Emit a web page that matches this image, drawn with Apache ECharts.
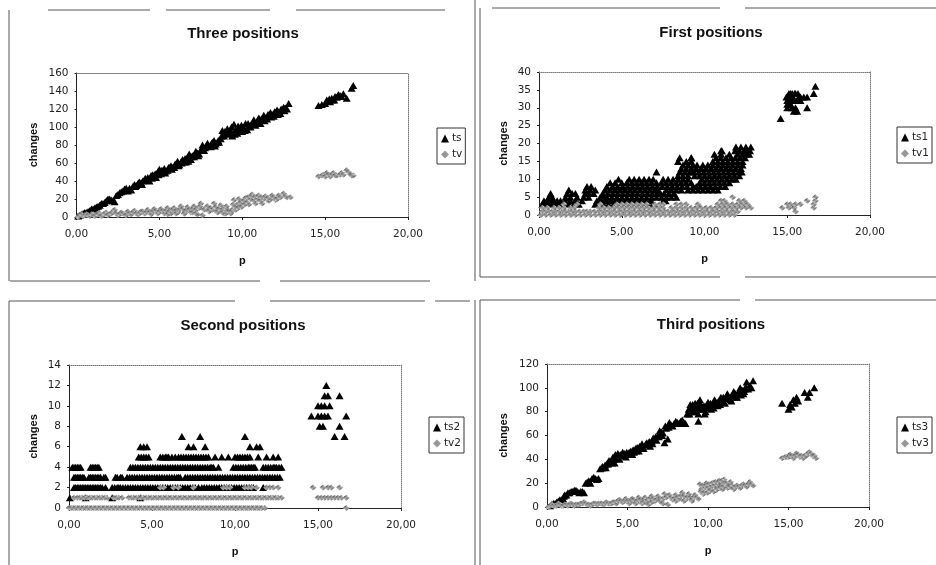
<!DOCTYPE html>
<html><head><meta charset="utf-8">
<style>html,body{margin:0;padding:0;background:#fff}#c{width:936px;height:565px}</style>
<script src="https://cdn.jsdelivr.net/npm/echarts@6/dist/echarts.min.js"></script>
</head><body><div id="c"></div>
<script>
// ---------- data: [p, changes] ----------
const ts=[[.1,1],[.3,3],[.5,5],[.7,6],[.9,9],[1.1,10],[1.3,12],[1.5,15],[1.7,16],[1.9,20],[2.1,19],[2.3,17],[2.4,24],[2.6,27],[2.8,29],[3,32],[3.1,29],[3.3,30],[3.5,36],[3.7,37],[3.9,38],[4.1,41],[4.3,44],[4.4,40],[4.6,47],[4.8,44],[5,53],[5.1,48],[5.3,54],[5.5,52],[5.7,57],[5.9,55],[6.1,62],[6.2,58],[6.4,64],[6.6,61],[6.8,70],[6.9,64],[7.1,67],[7.2,73],[7.4,70],[7.6,80],[7.7,74],[7.9,82],[8.1,78],[8.3,85],[8.4,81],[8.6,83],[8.8,96],[8.9,90],[9.1,98],[9.2,92],[9.4,90],[9.5,103],[9.7,93],[9.8,99],[10,95],[10.2,104],[10.3,97],[10.5,100],[10.7,108],[10.8,102],[11,110],[11.1,104],[11.3,113],[11.5,109],[11.7,116],[11.9,112],[12.1,119],[12.3,115],[12.5,122],[12.7,120],[12.8,126],[14.6,124],[15,126],[15.1,130],[15.3,128],[15.4,132],[15.6,134],[15.8,136],[16.1,137],[16.3,132],[16.6,143],[16.7,146]];
const tsMore=[[.2,2],[.4,4],[.6,5],[.8,7],[1,9],[1.2,11],[1.4,13],[1.6,15],[1.8,18],[2,20],[2.2,18],[2.5,25],[2.7,28],[2.9,31],[3.2,32],[3.4,34],[3.6,35],[3.8,39],[4,40],[4.2,41],[4.5,46],[4.7,45],[4.9,50],[5.2,51],[5.4,51],[5.6,55],[5.8,55],[6,58],[6.3,61],[6.5,61],[6.7,66],[7,68],[7.3,71],[7.5,74],[7.8,78],[8,79],[8.2,83],[8.5,83],[8.7,87],[9,93],[9.3,96],[9.6,97],[9.9,97],[10.1,99],[10.4,102],[10.6,104],[10.9,106],[11.2,108],[11.4,110],[11.6,112],[11.8,114],[12,116],[12.2,117],[12.4,119],[12.6,121],[3.55,34],[3.75,38],[3.95,36],[4.15,43],[4.35,41],[4.55,43],[4.75,48],[4.95,47],[5.15,52],[5.35,49],[5.55,55],[5.75,53],[5.95,59],[6.15,57],[6.35,60],[6.55,65],[6.75,62],[6.95,67],[7.15,70],[7.35,68],[7.55,76],[7.75,77],[7.95,80],[8.15,82],[8.35,79],[8.55,85],[8.75,90],[8.95,95],[9.15,94],[9.35,100],[9.55,92],[9.75,101],[9.95,102],[10.15,96],[10.35,104],[10.55,103],[10.75,105],[10.95,108],[11.15,109],[11.35,107],[11.55,114],[11.75,111],[11.95,117],[12.15,114],[12.35,120],[12.55,118],[14.8,125],[15.2,129],[15.25,131],[15.45,130],[15.55,130],[15.7,133],[15.9,135],[16,134]];
const tv=[[.1,0],[.2,2],[.4,1],[.6,3],[.8,1],[1,3],[1.2,2],[1.4,4],[1.6,2],[1.8,5],[2,3],[2.2,6],[2.3,8],[2.5,2],[2.7,5],[2.9,3],[3.1,6],[3.3,3],[3.5,7],[3.7,3],[3.9,6],[4.1,4],[4.3,8],[4.5,3],[4.7,9],[4.9,4],[5.1,9],[5.3,4],[5.5,10],[5.7,4],[5.9,10],[6.1,5],[6.3,12],[6.5,4],[6.7,11],[6.9,5],[7.1,12],[7.3,3],[7.5,15],[7.6,2],[7.8,10],[8,6],[8.3,15],[8.5,5],[8.7,13],[8.9,4],[9.1,8],[9.3,4],[9.5,19],[9.6,8],[9.8,20],[10,13],[10.2,21],[10.4,14],[10.6,25],[10.8,15],[11,24],[11.2,15],[11.4,23],[11.6,18],[11.8,24],[12,19],[12.2,24],[12.5,26],[12.7,22],[12.9,22],[14.6,45],[14.9,47],[15.1,49],[15.3,45],[15.5,49],[15.7,46],[16,49],[16.3,52],[16.5,48],[16.7,46]];
const tvMore=[[.15,1],[.3,3],[.5,2],[.7,2],[.9,3],[1.1,1],[1.3,3],[1.5,1],[1.7,4],[1.9,2],[2.1,4],[2.4,4],[2.6,3],[2.8,4],[3,2],[3.2,4],[3.4,5],[3.6,4],[3.8,4],[4,6],[4.2,5],[4.4,5],[4.6,6],[4.8,7],[5,6],[5.2,7],[5.4,7],[5.6,6],[5.8,8],[6,7],[6.2,8],[6.4,9],[6.6,7],[6.8,8],[7,9],[7.2,8],[7.4,10],[7.7,8],[7.9,12],[8.1,10],[8.2,8],[8.4,11],[8.6,9],[8.8,8],[9,10],[9.2,6],[9.4,8],[9.7,14],[9.9,16],[10.1,18],[10.3,16],[10.5,20],[10.7,18],[10.9,20],[11.1,18],[11.3,20],[11.5,19],[11.7,20],[11.9,22],[12.1,20],[12.3,22],[12.6,23],[14.8,46],[15,45],[15.2,47],[15.4,47],[15.6,46],[15.9,47],[16.1,47],[16.4,50],[16.6,46],[9.55,12],[9.75,10],[9.95,11],[10.15,14],[10.35,22],[10.55,23],[10.75,22],[10.95,23],[11.15,22],[11.35,22],[11.55,21],[5.5,3],[6,4],[6.5,4],[7,5],[7.2,4],[7.45,12],[8,7],[8.5,6],[9,4],[9.05,12],[8.8,5],[9.35,6],[9.45,14]];

const ts1r3=[.2,.4,.6,.8,1,1.2,1.5,1.8,2.1,2.4,3.4,3.6,3.9,4.2,4.5,4.8,5.1,5.4,5.7,6,6.3,6.6,6.9];
const ts1r4=[.3,.5,.7,.9,1.1,1.3,1.6,1.9,2.2,2.6,3.5,3.75,4.05,4.35,4.65,4.95,5.25,5.55,5.85,6.15,6.45,6.75,7.5,7.65];
const ts1r5=[.6,.8,1.6,1.9,2.3,2.7,3,3.7,3.9,4.1,4.4,4.7,5,5.3,5.6,5.9,6.2,6.5,6.8,7.1,7.4,7.7,8,8.3];
const ts1r6=[.7,1.7,2,2.2,2.8,3,3.3,3.85,4.15,4.45,4.75,5.05,5.35,5.65,5.95,6.25,6.55,6.85,7.15,7.35,7.55,7.85,8.15];
const ts1r7=[1.8,2.8,3.1,3.4,4,4.3,4.6,4.9,5.2,5.5,5.8,6.1,6.4,6.7,7,7.2,7.7,8,8.3,8.6,9,9.3,9.6,9.9,10.2,10.5,10.8];
const ts1r8=[2.9,3.15,4.1,4.45,4.75,5.05,5.35,5.65,5.95,6.25,6.55,6.85,7.15,7.45,7.75,8.05,8.35,8.65,8.95,9.3,9.5,9.75,10.05,10.35,10.65,10.95,11.25];
const ts1r9=[4.3,4.6,5,5.3,5.6,5.9,6.2,6.5,6.8,7.1,7.4,7.7,8,8.3,8.6,8.9,9.2,9.7,10,10.3,10.6,10.9,11.2,11.5];
const ts1r10=[4.8,5.45,5.75,6.05,6.35,6.65,6.9,7.5,7.8,8.1,8.4,8.7,9,9.85,10.15,10.45,10.75,11.05,11.35,11.65,11.9];
const ts1r11=[8.4,8.7,9,9.4,9.7,10,10.3,10.6,10.9,11.2,11.5,11.8,12.1];
const ts1r12=[8.5,8.8,9.1,9.35,9.65,9.95,10.25,10.55,10.85,11.15,11.45,11.75,12.05,12.25];
const ts1r13=[8.6,8.9,9.2,9.5,9.8,10.1,10.4,10.7,11,11.3,11.6,11.9,12.2];
const ts1r14=[8.7,9,9.3,9.55,9.9,10.2,10.5,10.8,11.1,11.4,11.7,12,12.3];
const ts1r15=[8.4,8.9,9.2,10.5,10.8,11.1,11.4,11.7,12,12.3];
const ts1r16=[8.5,9.2,10.7,11,11.3,11.6,11.85,12.15,12.45];
const ts1r17=[10.6,11,11.5,12,12.3,12.5,12.7];
const ts1r18=[11.05,11.85,12.1,12.4,12.6,12.75];
const ts1r19=[11.9,12.2,12.5,12.8];
const ts1High=[[.6,5],[7.1,12],[9.2,16],[11,18],[12.1,18],[14.6,27],[15,30],[15.2,31],[15.4,29],[15.6,29],[15.1,33],[15.3,34],[15.5,34],[15.7,33],[15,32],[15.2,34],[15.8,33],[16,33],[16.2,33],[16.2,30],[16.6,34],[16.7,36],[15,31],[15.1,31],[15.3,30],[15.5,30],[15.25,32],[15.4,32],[15.6,32],[15.8,32],[15.35,33],[15.65,34],[15.1,34],[15.45,34],[14.95,33]];
const tv1r0=[.1,.4,.7,1,1.3,1.6,1.9,2.2,2.5,2.8,3.1,3.4,3.7,4,4.3,4.6,4.9,5.2,5.5,5.8,6.1,6.4,6.7,7,7.3,7.6,7.9,8.2,8.5,8.8,9.1,9.4,9.7,10,10.3,10.6,10.9,11.2,11.5,11.8];
const tv1r1=[.2,.6,1,1.4,1.8,2.2,2.7,3.1,3.6,4,4.4,4.8,5.2,5.6,6,6.4,6.8,7.2,7.6,8,8.4,8.8,9.2,9.6,10,10.4,10.8,11.2,11.6,12,15.5,.4,.8,1.2,1.6,2,2.45,2.9,3.35,3.8,4.2,4.6,5,5.4,5.8,6.2,6.6,7,7.4,7.8,8.2,8.6,9,9.4,9.8,10.2,10.6,11,11.4,11.8];
const tv1r2=[.2,.5,.9,1.2,1.5,1.9,2.1,3.6,3.9,4.2,4.5,4.8,5.1,5.4,5.7,6,6.3,6.6,6.9,7.2,7.5,8,8.3,8.6,8.9,9.2,9.5,9.8,10.1,10.4,10.7,11,11.3,11.6,11.9,12.2,12.5,12.8,14.7,15.1,15.4,16.6];
const tv1r3=[1.5,2.3,3.7,4.7,5,5.3,5.6,5.9,6.2,6.5,7,7.3,7.5,8.3,8.6,8.9,9.6,10.8,11.1,11.4,11.7,12,12.3,12.6,15,15.2,15.5,15.8,16.6];
const tv1High=[[11,4],[11.2,4],[11.7,5],[12.1,4],[12.4,4],[16.2,4],[16.7,4],[16.7,5]];

const ts2r1=[.05,1,2.6,4.3];
const ts2r2=[.3,.5,.7,.9,1.1,1.3,1.5,1.7,1.9,2.2,2.6,2.9,3.1,3.4,3.7,4,4.3,4.6,4.9,5.2,5.5,5.8,6.1,6.4,6.7,7,7.3,7.6,8,8.3,8.6,8.9,9.2,9.5,9.8,10.1,10.4,10.7,11,11.7,.4,.6,.8,1,1.2,1.4,1.6,1.8,2,2.75,3,3.25,3.55,3.85,4.15,4.45,4.75,5.05,5.35,5.65,5.95,6.25,6.55,6.85,7.15,7.45,7.8,8.15,8.45,8.75,9.05,9.35,9.65,9.95,10.25,10.55,10.85,11.1];
const ts2r3=[.3,.5,.7,.9,1.2,1.4,1.6,1.8,2.2,2.8,3.2,3.5,3.8,4.1,4.4,4.7,5,5.3,5.6,5.9,6.2,6.5,6.7,7,7.3,7.6,7.9,8.2,8.5,8.8,9.1,9.4,9.7,10,10.3,10.6,10.9,11.2,11.5,11.8,12.1,12.4,12.7,.4,.6,.8,1.3,1.5,1.7,1.9,2.1,2.9,3.1,3.65,3.95,4.25,4.55,4.85,5.15,5.45,5.75,6.05,6.35,6.6,7.15,7.45,7.75,8.05,8.35,8.65,8.95,9.25,9.55,9.85,10.15,10.45,10.75,11.05,11.35,11.65,11.95,12.25,12.55];
const ts2r4=[.2,.4,.6,.7,1.3,1.5,1.7,1.8,3.7,4,4.3,4.6,4.9,5.2,5.5,5.8,6.1,6.4,6.7,7,7.3,7.6,7.9,8.2,8.5,8.7,9,9.9,10.2,10.5,10.8,11,11.2,11.7,12,12.3,12.5,12.8,.3,.5,1.4,1.6,3.85,4.15,4.45,4.75,5.05,5.35,5.65,5.95,6.25,6.55,6.85,7.15,7.45,7.75,8.05,8.35,8.6,10.05,10.35,10.65,10.9,11.1,11.85,12.15,12.4,12.65];
const ts2r5=[4.2,4.5,4.8,5.5,5.8,6,6.4,6.6,6.9,7.2,7.5,7.8,8.1,8.4,8.8,9.2,9.6,10,10.3,10.6,10.9,11.4,11.9,12.3,12.6,4.35,4.65,5.65,5.9,6.2,6.75,7.05,7.35,7.65,7.95,8.25,10.15,10.45,10.75];
const ts2r6=[4.3,4.5,4.7,7.2,7.5,8.2,10.9,11.3,11.5];
const ts2r7=[6.8,7.9,10.6,16,16.6];
const ts2r8=[15.1,15.3,16.3];
const ts2r9=[14.6,15,15.2,15.4,15.6,16.7];
const ts2r10=[15,15.2,15.4,15.7];
const ts2r11=[15.4,15.6,16.3];
const ts2r12=[15.5];
const tv2r0=[0,.25,.5,.75,1,1.25,1.5,1.75,2,2.25,2.5,2.75,3,3.25,3.5,3.75,4,4.25,4.5,4.75,5,5.25,5.5,5.75,6,6.25,6.5,6.75,7,7.25,7.5,7.75,8,8.25,8.5,8.75,9,9.25,9.5,9.75,10,10.25,10.5,10.75,11,11.25,11.5,11.8,16.7,.12,.37,.62,.87,1.12,1.37,1.62,1.87,2.12,2.37,2.62,2.87,3.12,3.37,3.62,3.87,4.12,4.37,4.62,4.87,5.12,5.37,5.62,5.87,6.12,6.37,6.62,6.87,7.12,7.37,7.62,7.87,8.12,8.37,8.62,8.87,9.12,9.37,9.62,9.87,10.12,10.37,10.62,10.87,11.12,11.37,11.62];
const tv2r1=[.3,.5,.8,1.1,1.4,1.7,2,2.3,2.7,3,3.2,3.6,3.9,4.2,4.5,4.8,5.1,5.4,5.7,6,6.3,6.6,6.9,7.2,7.5,7.8,8.1,8.4,8.7,9,9.3,9.6,9.9,10.2,10.5,10.8,11.1,11.4,11.7,12,12.3,12.6,12.8,15,15.2,15.4,15.6,15.8,16,16.2,16.4,16.7,.65,.95,1.25,1.55,1.85,2.15,2.85,3.75,4.05,4.35,4.65,4.95,5.25,5.55,5.85,6.15,6.45,6.75,7.05,7.35,7.65,7.95,8.25,8.55,8.85,9.15,9.45,9.75,10.05,10.35,10.65,10.95,11.25,11.55,11.85,12.15,12.45];
const tv2r2=[5.5,5.7,6.3,6.6,7.5,9.3,9.5,9.7,10.6,10.8,11,11.3,11.9,12.1,12.3,12.6,14.7,15.3,15.6,15.8,16.3];

const ts3=[[.2,1],[.4,3],[.6,4],[.8,6],[1,7],[1.1,10],[1.3,12],[1.5,13],[1.7,14],[1.9,13],[2.1,13],[2.3,12],[2.4,20],[2.6,22],[2.7,20],[2.9,25],[3.1,23],[3.3,32],[3.5,33],[3.7,36],[3.9,38],[4.1,42],[4.2,37],[4.4,45],[4.5,40],[4.7,46],[4.9,42],[5.1,46],[5.3,44],[5.5,49],[5.7,47],[5.9,53],[6,49],[6.2,54],[6.4,51],[6.6,58],[6.8,56],[7,64],[7.2,62],[7.3,54],[7.5,57],[7.6,71],[7.8,68],[8,72],[8.2,70],[8.4,73],[8.6,70],[8.8,82],[8.9,86],[9.1,80],[9.2,87],[9.4,78],[9.5,90],[9.7,82],[9.8,78],[10,88],[10.2,82],[10.4,90],[10.6,85],[10.8,92],[11,88],[11.2,95],[11.4,90],[11.6,97],[11.8,92],[12,100],[12.2,95],[12.4,105],[12.5,99],[12.8,106],[12.7,100],[9.4,72],[14.6,87],[15,82],[15.1,86],[15.2,84],[15.3,90],[15.4,87],[15.5,92],[15.6,89],[16,96],[16.2,92],[16.3,96],[16.6,100]];
const ts3More=[[.3,2],[.5,3],[.7,5],[.9,6],[1.05,9],[1.2,10],[1.4,12],[1.6,13],[1.8,14],[2,12],[2.2,13],[2.5,21],[2.8,24],[3,24],[3.2,24],[3.4,33],[3.6,35],[3.8,36],[4,39],[4.15,40],[4.3,42],[4.45,41],[4.6,43],[4.8,45],[5,44],[5.2,47],[5.4,46],[5.6,50],[5.8,49],[6.1,52],[6.3,53],[6.5,55],[6.7,57],[6.9,60],[7.1,63],[7.4,66],[7.7,69],[7.9,70],[8.1,71],[8.3,72],[8.5,71],[8.7,78],[9,83],[9.3,84],[9.6,85],[9.9,84],[10.1,85],[10.3,86],[10.5,87],[10.7,88],[10.9,89],[11.1,91],[11.3,92],[11.5,93],[11.7,95],[11.9,96],[12.1,97],[12.3,99],[12.6,102],[3.45,34],[3.65,33],[3.85,39],[4.05,37],[4.25,44],[4.55,44],[4.75,44],[4.95,46],[5.15,45],[5.35,48],[5.55,47],[5.75,51],[5.95,51],[6.15,53],[6.35,55],[6.55,53],[6.75,59],[6.95,59],[7.15,60],[7.35,68],[7.55,67],[8.85,78],[8.95,84],[9.05,86],[9.15,84],[9.25,80],[9.35,87],[9.45,82],[9.55,86],[9.75,85],[9.85,80],[9.95,86],[10.05,83],[10.15,87],[10.35,83],[10.45,89],[10.65,89],[10.75,86],[10.95,92],[11.05,87],[11.25,93],[11.45,89],[11.55,95],[11.75,92],[11.95,98],[12.05,94],[12.15,98],[12.25,97],[12.35,101]];
const tv3=[[.1,0],[.3,2],[.5,1],[.7,3],[.9,1],[1.1,2],[1.3,1],[1.5,3],[1.7,1],[1.9,2],[2.1,3],[2.3,4],[2.5,2],[2.7,1],[2.9,3],[3.1,2],[3.3,3],[3.5,2],[3.7,4],[3.9,3],[4.1,4],[4.3,3],[4.5,6],[4.7,4],[4.9,7],[5.1,3],[5.3,7],[5.5,4],[5.7,8],[5.9,3],[6.1,8],[6.3,2],[6.5,9],[6.7,5],[6.9,9],[7.1,4],[7.3,11],[7.5,2],[7.6,10],[7.8,6],[8,10],[8.2,7],[8.4,12],[8.6,6],[8.8,11],[9,5],[9.2,10],[9.4,7],[9.5,19],[9.7,11],[9.9,20],[10.1,13],[10.3,20],[10.5,14],[10.7,22],[10.9,15],[11,23],[11.2,16],[11.4,21],[11.6,15],[11.8,18],[12,16],[12.2,19],[12.4,17],[12.6,21],[12.8,18],[14.6,41],[14.9,42],[15.1,44],[15.3,41],[15.5,45],[15.7,42],[15.9,41],[16.1,43],[16.3,46],[16.5,43],[16.7,41]];
const tv3More=[[.2,1],[.4,1],[.6,1],[.8,2],[1,1],[1.2,2],[1.4,2],[1.6,2],[1.8,2],[2,2],[2.2,3],[2.4,3],[2.6,2],[2.8,2],[3,3],[3.2,3],[3.4,3],[3.6,3],[3.8,3],[4,3],[4.2,4],[4.4,5],[4.6,5],[4.8,5],[5,5],[5.2,5],[5.4,6],[5.6,5],[5.8,6],[6,6],[6.2,5],[6.4,7],[6.6,7],[6.8,6],[7,7],[7.2,7],[7.4,8],[7.7,8],[7.9,7],[8.1,8],[8.3,9],[8.5,9],[8.7,8],[8.9,8],[9.1,8],[9.3,8],[9.6,15],[9.8,16],[10,16],[10.2,17],[10.4,18],[10.6,19],[10.8,18],[11,20],[11.1,18],[11.3,18],[11.5,18],[11.7,17],[11.9,17],[12.1,18],[12.3,18],[12.5,19],[12.7,19],[14.8,42],[15,42],[15.2,43],[15.4,43],[15.6,44],[15.8,43],[16,43],[16.2,45],[16.4,45],[16.6,43],[9.55,13],[9.75,12],[9.95,12],[10.15,14],[10.35,13],[10.55,15],[10.75,16],[10.95,17],[11.05,21],[11.15,20],[11.35,17],[9.65,18],[9.85,18],[10.05,19],[10.25,20],[10.45,21],[10.65,21],[10.85,22],[5.5,3],[6,4],[6.5,4],[7,5],[7.2,3],[8,5],[8.5,5],[9,6]];

const titles=['Three positions','First positions','Second positions','Third positions'];
const yMax=[160,40,14,120];
const yStep=[20,5,2,20];
const seriesNames=[['ts','tv'],['ts1','tv1'],['ts2','tv2'],['ts3','tv3']];

// ---------- assembling ----------
const row=(v,ps)=>ps.map(p=>[p,v]);
const ts1=[].concat(row(3,ts1r3),row(4,ts1r4),row(5,ts1r5),row(6,ts1r6),row(7,ts1r7),row(8,ts1r8),row(9,ts1r9),row(10,ts1r10),row(11,ts1r11),row(12,ts1r12),row(13,ts1r13),row(14,ts1r14),row(15,ts1r15),row(16,ts1r16),row(17,ts1r17),row(18,ts1r18),row(19,ts1r19),ts1High);
const tv1=[].concat(row(0,tv1r0),row(1,tv1r1),row(2,tv1r2),row(3,tv1r3),tv1High);
const ts2=[].concat(row(1,ts2r1),row(2,ts2r2),row(3,ts2r3),row(4,ts2r4),row(5,ts2r5),row(6,ts2r6),row(7,ts2r7),row(8,ts2r8),row(9,ts2r9),row(10,ts2r10),row(11,ts2r11),row(12,ts2r12));
const tv2=[].concat(row(0,tv2r0),row(1,tv2r1),row(2,tv2r2));
const seriesData=[[ts.concat(tsMore),tv.concat(tvMore)],[ts1,tv1],[ts2,tv2],[ts3.concat(ts3More),tv3.concat(tv3More)]];

const grids=[{l:76.5,t:73,w:331.5,h:144},{l:539,t:72,w:331,h:143},{l:69,t:365,w:332,h:143},{l:547,t:364,w:322,h:143}];
const titlePos=[[238,21],[706,20],[238,313],[706,312]];
const legendPos=[[437,128],[897,127],[429,417],[897,417]];
const nameGapY=[37,30,30,38];

function halftone(){
  const c=document.createElement('canvas');c.width=c.height=2;
  const g=c.getContext('2d');g.fillStyle='#e2e2e2';g.fillRect(0,0,2,2);
  g.fillStyle='#4c4c4c';g.fillRect(0,0,1,1);g.fillRect(1,1,1,1);
  return c;
}
const pat={image:halftone(),repeat:'repeat'};
const FONT='"DejaVu Sans"';
const BOLD='"Liberation Sans"';

const opt={animation:false,backgroundColor:'#fff',title:[],grid:[],xAxis:[],yAxis:[],legend:[],series:[],graphic:[]};
grids.forEach((g,i)=>{
  opt.title.push({text:titles[i],left:titlePos[i][0],top:titlePos[i][1],textAlign:'center',
    textStyle:{fontFamily:BOLD,fontWeight:'bold',fontSize:15,color:'#111'}});
  opt.grid.push({left:g.l,top:g.t,width:g.w,height:g.h,containLabel:false});
  opt.xAxis.push({gridIndex:i,type:'value',min:0,max:20,interval:5,name:'p',nameLocation:'middle',nameGap:38,
    nameTextStyle:{fontFamily:BOLD,fontWeight:'bold',fontSize:11,color:'#111'},
    axisLine:{show:true,onZero:false,lineStyle:{color:'#222',width:1}},
    axisTick:{show:true,length:3,lineStyle:{color:'#222'}},splitLine:{show:false},
    axisLabel:{margin:12,fontFamily:FONT,fontSize:10.5,color:'#222',formatter:v=>v.toFixed(2).replace('.',',')}});
  opt.xAxis.push({gridIndex:i,type:'value',position:'top',min:0,max:20,interval:5,
    axisLine:{show:true,onZero:false,lineStyle:{color:'#777',width:1,type:'dotted'}},
    axisTick:{show:false},axisLabel:{show:false},splitLine:{show:false}});
  opt.yAxis.push({gridIndex:i,type:'value',min:0,max:yMax[i],interval:yStep[i],name:'changes',nameLocation:'middle',nameGap:nameGapY[i],
    nameTextStyle:{fontFamily:BOLD,fontWeight:'bold',fontSize:11,color:'#111'},
    axisLine:{show:true,onZero:false,lineStyle:{color:'#222',width:1}},
    axisTick:{show:true,length:2,lineStyle:{color:'#222'}},splitLine:{show:false},
    axisLabel:{margin:8,fontFamily:FONT,fontSize:10.5,color:'#222'}});
  opt.yAxis.push({gridIndex:i,type:'value',position:'right',min:0,max:yMax[i],interval:yStep[i],
    axisLine:{show:true,onZero:false,lineStyle:{color:'#777',width:1,type:'dotted'}},
    axisTick:{show:false},axisLabel:{show:false},splitLine:{show:false}});
  const [a,b]=seriesNames[i];
  opt.legend.push({orient:'vertical',left:legendPos[i][0],top:legendPos[i][1],padding:[5,3,4,4],itemGap:5,itemWidth:8,itemHeight:8,
    borderColor:'#333',borderWidth:1,backgroundColor:'#fff',
    textStyle:{fontFamily:FONT,fontSize:10.5,color:'#222',padding:[0,0,0,-2]},
    data:[{name:a,icon:'triangle'},{name:b,icon:'diamond'}]});
  opt.series.push({name:a,type:'scatter',xAxisIndex:i*2,yAxisIndex:i*2,data:seriesData[i][0],symbol:'triangle',symbolSize:[8,7],
    itemStyle:{color:'#000',opacity:1},z:3});
  opt.series.push({name:b,type:'scatter',xAxisIndex:i*2,yAxisIndex:i*2,data:seriesData[i][1],symbol:'diamond',symbolSize:[7,6],
    itemStyle:{color:pat,opacity:1},z:4});
});
// scanned panel frames (decoration)
const frameH=[[48,150,10],[166,270,10],[296,445,10],[10,260,281],[280,430,281],[492,720,8],[745,936,8],[480,720,277],[745,936,277],[9,235,301],[270,425,301],[435,470,301],[480,740,300],[755,936,300]];
const frameV=[[9,10,281],[475,0,281],[480,8,277],[9,301,565],[475,300,565],[480,300,565]];
frameH.forEach(s=>opt.graphic.push({type:'line',silent:true,shape:{x1:s[0],y1:s[2],x2:s[1],y2:s[2]},style:{stroke:'#555',lineWidth:1}}));
frameV.forEach(s=>opt.graphic.push({type:'line',silent:true,shape:{x1:s[0],y1:s[1],x2:s[0],y2:s[2]},style:{stroke:'#555',lineWidth:1}}));

echarts.init(document.getElementById('c'),null,{renderer:'canvas'}).setOption(opt);
</script></body></html>
